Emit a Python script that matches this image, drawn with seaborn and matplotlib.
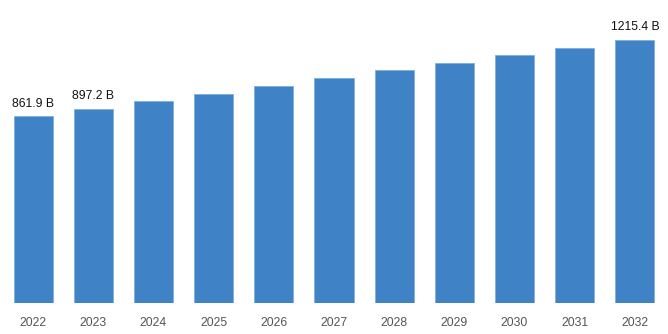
import matplotlib
matplotlib.use("Agg")
import matplotlib.pyplot as plt
import seaborn as sns
import pandas as pd

years = ["2022", "2023", "2024", "2025", "2026", "2027", "2028", "2029", "2030", "2031", "2032"]
values = [861.9, 897.2, 931, 967, 1003, 1039, 1074, 1109, 1146, 1178, 1215.4]
labels = {"2022": "861.9 B", "2023": "897.2 B", "2032": "1215.4 B"}

sns.set_theme(style="white")
plt.rcParams['font.family'] = ['Liberation Sans', 'DejaVu Sans']

df = pd.DataFrame({"year": years, "value": values})
fig = plt.figure(figsize=(6.68, 3.34), dpi=100)
ax = fig.add_axes([3/668, (334-303.3)/334, 662/668, 303.3/334])
sns.barplot(data=df, x="year", y="value", color="#3f83c6", saturation=1, width=0.65,
            edgecolor="#7fb0e0", linewidth=0.6, ax=ax)
ax.set_xlim(-0.5, len(years) - 0.5)
ax.set_ylim(0, 1398)
for i, (y, v) in enumerate(zip(years, values)):
    if y in labels:
        ax.annotate(labels[y], (i, v), xytext=(0, 4.5), textcoords="offset points",
                    ha="center", va="bottom", fontsize=8.8, color="#111111")
ax.set_xlabel("")
ax.set_ylabel("")
ax.set_yticks([])
ax.tick_params(axis="x", length=0, pad=10, labelsize=8.8, labelcolor="#555555")
for s in ax.spines.values():
    s.set_visible(False)
fig.savefig("out.png", dpi=100)
